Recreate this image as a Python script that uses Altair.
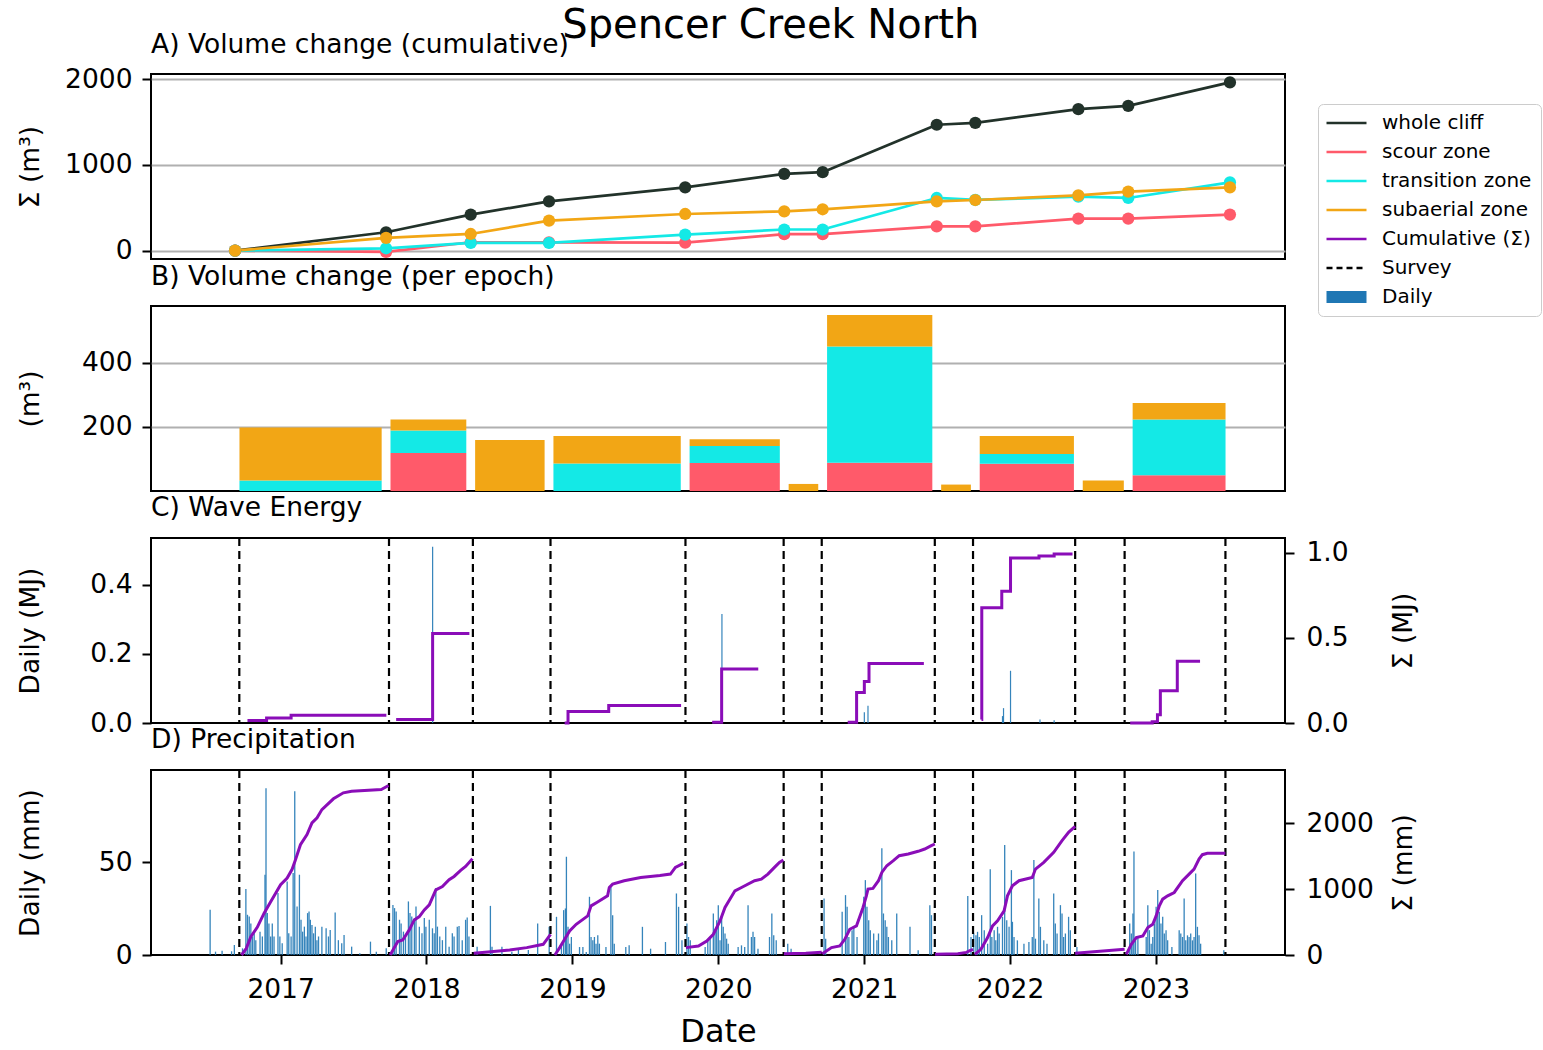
import altair as alt
import pandas as pd

FONT = "DejaVu Sans"

# ---------------- survey epochs (decimal year) ----------------
survey_years = [2016.717, 2017.743, 2018.318, 2018.850, 2019.775, 2020.448,
                2020.709, 2021.484, 2021.746, 2022.446, 2022.785, 2023.476]

# ---------------- A) cumulative volume change (m3) ----------------
vol_whole = [0, 214, 419, 575, 738, 895, 915, 1468, 1490, 1650, 1688, 1962]
vol_scour = [0, -15, 97, 97, 92, 192, 192, 283, 283, 373, 373, 420]
vol_transition = [0, 27, 89, 89, 186, 246, 246, 614, 592, 629, 614, 796]
vol_subaerial = [0, 148, 194, 350, 427, 458, 482, 575, 590, 645, 687, 738]

# ---------------- B) per-epoch volume change (m3) ----------------
epoch_scour = [0, 118, 0, 0, 87, 0, 88, 0, 85, 0, 49]
epoch_transition = [33, 70, 0, 86, 53, 0, 362, 0, 30, 0, 174]
epoch_subaerial = [165, 35, 159, 85, 21, 22, 98, 20, 56, 33, 51]

# ---------------- C) wave energy ----------------
wave_t = [2018.042, 2020.025, 2021.001, 2021.026, 2021.948, 2021.955, 2022.003, 2022.205, 2022.302, 2023.010]
wave_mj = [0.51, 0.315, 0.031, 0.05, 0.02, 0.043, 0.151, 0.01, 0.008, 0.013]

wave_cum_e1 = [(2016.773, 0.014), (2016.904, 0.029), (2017.072, 0.045), (2017.725, 0.045)]
wave_cum_e2 = [(2017.792, 0.020), (2018.042, 0.525), (2018.294, 0.525)]
wave_cum_e4 = [(2018.947, 0.000), (2018.970, 0.068), (2019.249, 0.103), (2019.745, 0.103)]
wave_cum_e5 = [(2019.958, 0.005), (2020.023, 0.317), (2020.274, 0.317)]
wave_cum_e7 = [(2020.887, 0.005), (2020.948, 0.179), (2021.001, 0.243), (2021.033, 0.350), (2021.409, 0.350)]
wave_cum_e9 = [(2021.804, 0.020), (2021.806, 0.677), (2021.943, 0.774), (2022.003, 0.969),
               (2022.198, 0.980), (2022.302, 0.992), (2022.428, 0.992)]
wave_cum_e11 = [(2022.823, 0.000), (2022.974, 0.008), (2023.010, 0.049), (2023.030, 0.190),
                (2023.146, 0.362), (2023.302, 0.362)]

# ---------------- D) precipitation ----------------
rain_t = [
    2016.517, 2016.554, 2016.599, 2016.664, 2016.683, 2016.739, 2016.762, 2016.773, 2016.785, 2016.796,
    2016.807, 2016.819, 2016.830, 2016.859, 2016.875, 2016.893, 2016.900, 2016.909, 2016.920, 2016.932,
    2016.943, 2016.955, 2016.982, 2016.995, 2017.011, 2017.045, 2017.056, 2017.072, 2017.086, 2017.097,
    2017.113, 2017.129, 2017.140, 2017.151, 2017.163, 2017.174, 2017.185, 2017.195, 2017.204, 2017.215,
    2017.226, 2017.238, 2017.249, 2017.260, 2017.283, 2017.312, 2017.328, 2017.340, 2017.374, 2017.396,
    2017.419, 2017.435, 2017.487, 2017.543, 2017.616, 2017.656, 2017.724,
    2017.770, 2017.781, 2017.792, 2017.815, 2017.826, 2017.842, 2017.856, 2017.876, 2017.887, 2017.899,
    2017.917, 2017.928, 2017.951, 2017.969, 2017.985, 2017.996, 2018.019, 2018.041, 2018.053, 2018.064,
    2018.075, 2018.091, 2018.109, 2018.132, 2018.155, 2018.177, 2018.189, 2018.211, 2018.223, 2018.245,
    2018.268, 2018.279, 2018.291,
    2018.347, 2018.438, 2018.449, 2018.517, 2018.585, 2018.630, 2018.698, 2018.762, 2018.841,
    2018.891, 2018.925, 2018.940, 2018.952, 2018.959, 2018.970, 2018.981, 2018.993, 2019.049, 2019.072,
    2019.095, 2019.117, 2019.128, 2019.140, 2019.151, 2019.162, 2019.174, 2019.185, 2019.230, 2019.264,
    2019.276, 2019.287, 2019.366, 2019.389, 2019.480, 2019.536, 2019.638, 2019.713, 2019.728, 2019.751,
    2019.785, 2019.796, 2019.808, 2019.910, 2019.928, 2019.944, 2019.966, 2019.978, 2019.989, 2020.000,
    2020.012, 2020.023, 2020.034, 2020.046, 2020.057, 2020.068, 2020.136, 2020.159, 2020.181, 2020.204,
    2020.227, 2020.238, 2020.249, 2020.272, 2020.351, 2020.367, 2020.380, 2020.397,
    2020.476, 2020.499,
    2020.725, 2020.736, 2020.849, 2020.872, 2020.883, 2020.895, 2020.917, 2020.929, 2020.951, 2020.997,
    2021.008, 2021.019, 2021.031, 2021.042, 2021.065, 2021.087, 2021.098, 2021.121, 2021.132, 2021.144,
    2021.155, 2021.166, 2021.189, 2021.223, 2021.314, 2021.370, 2021.450, 2021.461,
    2021.710, 2021.732,
    2021.751, 2021.766, 2021.777, 2021.789, 2021.805, 2021.823, 2021.846, 2021.864, 2021.875, 2021.891,
    2021.902, 2021.914, 2021.925, 2021.948, 2021.963, 2021.977, 2021.993, 2022.009, 2022.016, 2022.027,
    2022.050, 2022.095, 2022.129, 2022.152, 2022.163, 2022.174, 2022.197, 2022.208, 2022.231, 2022.253,
    2022.299, 2022.310, 2022.322, 2022.345, 2022.356, 2022.367, 2022.379, 2022.401, 2022.413,
    2022.458, 2022.684,
    2022.820, 2022.831, 2022.842, 2022.849, 2022.860, 2022.876, 2022.933, 2022.944, 2022.955, 2022.967,
    2022.978, 2022.989, 2023.001, 2023.012, 2023.023, 2023.034, 2023.046, 2023.057, 2023.069, 2023.080,
    2023.109, 2023.159, 2023.170, 2023.182, 2023.193, 2023.204, 2023.216, 2023.227, 2023.238, 2023.250,
    2023.261, 2023.272, 2023.284, 2023.295, 2023.306, 2023.465,
]
rain_mm = [
    24.4, 1.8, 2.3, 2.0, 5.4, 3.6, 35.6, 21.7, 20.8, 17.0,
    10.0, 11.7, 8.0, 12.6, 10.0, 43.3, 90.0, 22.6, 17.0, 10.0,
    17.0, 10.0, 33.4, 10.0, 6.3, 39.7, 11.7, 10.0, 44.2, 88.4,
    26.2, 43.3, 19.0, 12.6, 15.3, 10.0, 22.6, 23.5, 19.0, 16.2,
    11.7, 15.3, 8.0, 10.0, 15.3, 14.4, 10.0, 13.5, 22.9, 8.0,
    6.3, 10.8, 4.5, 1.0, 7.2, 1.8, 3.6,
    27.0, 25.3, 23.5, 19.0, 17.0, 12.6, 10.0, 28.9, 22.6, 20.8,
    19.9, 26.2, 15.3, 11.7, 19.9, 15.3, 19.0, 14.4, 11.7, 36.1,
    15.3, 10.0, 8.0, 15.3, 4.5, 11.7, 10.0, 15.3, 15.7, 8.0,
    19.0, 20.2, 10.0,
    4.5, 26.5, 4.5, 4.5, 1.8, 3.6, 2.7, 17.0, 15.2,
    20.6, 6.1, 24.2, 25.1, 53.0, 15.2, 6.1, 9.7, 4.3, 4.3,
    1.6, 31.4, 9.7, 7.9, 9.7, 6.1, 10.6, 6.1, 4.3, 36.8,
    21.5, 6.1, 4.3, 5.2, 15.2, 3.4, 7.0, 33.2, 26.0, 7.9,
    17.0, 9.7, 7.9, 4.3, 7.9, 9.7, 22.4, 12.5, 18.8, 26.9,
    7.9, 20.6, 15.2, 11.6, 8.8, 6.1, 4.3, 5.2, 4.3, 26.9,
    9.7, 12.5, 9.7, 3.4, 9.7, 22.4, 10.6, 7.9,
    6.1, 3.4,
    30.5, 8.8, 23.3, 32.3, 26.0, 9.7, 13.4, 15.2, 9.7, 31.4,
    40.4, 26.0, 18.8, 13.4, 11.6, 7.9, 11.6, 57.6, 22.4, 18.8,
    15.2, 9.7, 7.9, 22.4, 15.2, 2.5, 26.9, 21.5,
    31.8, 9.7,
    11.6, 10.6, 12.5, 9.7, 21.5, 13.4, 6.1, 46.2, 9.7, 13.4,
    7.9, 15.2, 11.6, 20.6, 59.4, 18.8, 15.2, 45.8, 17.9, 9.7,
    7.9, 6.1, 7.0, 9.7, 51.3, 8.8, 30.5, 15.2, 7.9, 6.1,
    33.2, 17.0, 11.6, 26.9, 22.4, 9.7, 11.6, 20.6, 13.4,
    4.3, 0.7,
    17.0, 11.6, 22.4, 55.8, 7.9, 9.7, 9.7, 26.9, 13.4, 6.1,
    9.7, 17.0, 26.0, 35.0, 23.3, 17.0, 20.6, 11.6, 13.4, 7.9,
    4.3, 13.4, 11.6, 9.7, 30.5, 7.9, 10.6, 9.7, 11.6, 7.9,
    9.7, 44.0, 15.2, 10.6, 6.1, 2.5,
]

rain_cum_e1 = [(2016.732, 0), (2016.765, 100), (2016.796, 279), (2016.840, 420), (2016.887, 634),
               (2016.930, 800), (2016.970, 950), (2017.000, 1065), (2017.045, 1166), (2017.079, 1300),
               (2017.102, 1445), (2017.136, 1673), (2017.181, 1825), (2017.215, 2003), (2017.250, 2080),
               (2017.283, 2205), (2017.362, 2368), (2017.430, 2459), (2017.487, 2484), (2017.690, 2510),
               (2017.740, 2570)]
rain_cum_e2 = [(2017.751, 0), (2017.803, 203), (2017.837, 228), (2017.882, 380), (2017.916, 532),
               (2017.951, 583), (2017.985, 684), (2018.019, 760), (2018.064, 988), (2018.109, 1039),
               (2018.155, 1141), (2018.189, 1191), (2018.234, 1283), (2018.268, 1343), (2018.315, 1460)]
rain_cum_e3 = [(2018.324, 26), (2018.440, 50), (2018.570, 75), (2018.687, 112), (2018.800, 162),
               (2018.834, 264), (2018.850, 314)]
rain_cum_e4 = [(2018.880, 0), (2018.913, 112), (2018.950, 250), (2018.981, 365), (2019.026, 466),
               (2019.105, 593), (2019.128, 745), (2019.170, 800), (2019.241, 897), (2019.253, 1024),
               (2019.276, 1075), (2019.355, 1126), (2019.468, 1176), (2019.600, 1205), (2019.672, 1227),
               (2019.706, 1328), (2019.760, 1389)]
rain_cum_e5 = [(2019.778, 112), (2019.864, 137), (2019.921, 213), (2019.966, 314), (2020.012, 517),
               (2020.046, 720), (2020.114, 973), (2020.159, 1024), (2020.249, 1126), (2020.295, 1151),
               (2020.340, 1227), (2020.385, 1328), (2020.419, 1404), (2020.446, 1440)]
rain_cum_e6 = [(2020.450, 20), (2020.600, 28), (2020.709, 40)]
rain_cum_e7 = [(2020.713, 20), (2020.776, 112), (2020.833, 137), (2020.867, 238), (2020.901, 390),
               (2020.947, 441), (2020.992, 720), (2021.015, 897), (2021.026, 999), (2021.060, 1010),
               (2021.098, 1126), (2021.121, 1252), (2021.155, 1354), (2021.200, 1430), (2021.240, 1506),
               (2021.302, 1531), (2021.370, 1572), (2021.415, 1607), (2021.460, 1658), (2021.484, 1683)]
rain_cum_e8 = [(2021.486, 10), (2021.642, 20), (2021.700, 40), (2021.721, 61), (2021.746, 86)]
rain_cum_e9 = [(2021.759, 10), (2021.800, 86), (2021.846, 264), (2021.880, 441), (2021.914, 517),
               (2021.959, 669), (2021.982, 897), (2022.016, 1049), (2022.061, 1126), (2022.152, 1176),
               (2022.174, 1303), (2022.231, 1404), (2022.299, 1556), (2022.356, 1734), (2022.401, 1861),
               (2022.446, 1950)]
rain_cum_e10 = [(2022.446, 25), (2022.785, 86)]
rain_cum_e11 = [(2022.797, 10), (2022.831, 162), (2022.865, 264), (2022.910, 289), (2022.944, 416),
                (2022.978, 466), (2023.001, 593), (2023.023, 745), (2023.046, 847), (2023.080, 897),
                (2023.125, 948), (2023.182, 1126), (2023.227, 1227), (2023.261, 1303), (2023.295, 1455),
                (2023.318, 1521), (2023.352, 1541), (2023.476, 1541)]

# ---------------- legend / styles ----------------
keys = ["whole cliff", "scour zone", "transition zone", "subaerial zone", "Cumulative (Σ)", "Survey", "Daily"]
key_colors = ["#22322a", "#ff5a6a", "#14e9e6", "#f2a615", "#8a0db8", "#000000", "#1f77b4"]
key_dash = [[1, 0], [1, 0], [1, 0], [1, 0], [1, 0], [6, 4], [1, 0]]
LINE_SYM = "M-5,0H5"
RECT_SYM = "M-5,-1.2H5M-5,-0.6H5M-5,0H5M-5,0.6H5M-5,1.2H5"
key_shapes = [LINE_SYM] * 6 + [RECT_SYM]
PURPLE = "#8a0db8"
BLUE = "#1f77b4"

W, H = 1134, 185
TICK_FS = 26.5
TITLE_FS = 26.5
xscale = alt.Scale(domain=[2016.146, 2023.85], nice=False, zero=False)

color_scale = alt.Scale(domain=keys, range=key_colors)
dash_scale = alt.Scale(domain=keys, range=key_dash)
shape_scale = alt.Scale(domain=keys, range=key_shapes)

LEG = alt.Legend(title=None, orient="none", legendX=1167, legendY=30,
                 labelFont=FONT, labelFontSize=20, labelColor="black",
                 symbolSize=64, symbolStrokeWidth=2.5, symbolOpacity=1,
                 strokeColor="#cccccc", fillColor="white", cornerRadius=5,
                 padding=9, rowPadding=9, symbolOffset=9.5, labelOffset=25.5)


def left_axis(title, values, fmt=None, grid=False):
    kw = dict(title=title, values=values, grid=grid, domain=False, ticks=True, tickSize=9, tickWidth=2,
              tickColor="black", labelFont=FONT, labelFontSize=TICK_FS, labelColor="black", labelPadding=10,
              titleFont=FONT, titleFontSize=TICK_FS, titleFontWeight="normal", titleColor="black",
              titlePadding=22, minExtent=85, maxExtent=85)
    if grid:
        kw.update(gridColor="#b0b0b0", gridWidth=1.8)
    if fmt:
        kw["format"] = fmt
    return alt.Axis(**kw)


def right_axis(title, values, fmt=None):
    kw = dict(title=title, values=values, orient="right", grid=False, domain=False, tickSize=9, tickWidth=2,
              tickColor="black", labelFont=FONT, labelFontSize=TICK_FS, labelColor="black", labelPadding=12,
              titleFont=FONT, titleFontSize=TICK_FS, titleFontWeight="normal", titleColor="black",
              titleAngle=270, titleBaseline="top", titlePadding=20, minExtent=85, maxExtent=85)
    if fmt:
        kw["format"] = fmt
    return alt.Axis(**kw)


def panel_title(text, offset=-5.5):
    return alt.TitleParams(text, anchor="start", frame="group", font=FONT, fontSize=TITLE_FS,
                           fontWeight="normal", color="black", baseline="alphabetic", offset=offset)


# ---------------- build data frames ----------------
rowsA = []
for k, vals in zip(keys[:4], [vol_whole, vol_scour, vol_transition, vol_subaerial]):
    for t, v in zip(survey_years, vals):
        rowsA.append({"year": t, "volume": v, "key": k})
dfA = pd.DataFrame(rowsA)

rowsB = []
for i in range(len(epoch_scour)):
    x0 = survey_years[i] + 0.03
    x1 = survey_years[i + 1] - 0.03
    base = 0
    for k, v in zip(keys[1:4], [epoch_scour[i], epoch_transition[i], epoch_subaerial[i]]):
        if v > 0:
            rowsB.append({"x0": x0, "x1": x1, "y0": base, "y1": base + v, "key": k})
            base += v
dfB = pd.DataFrame(rowsB)

dfSurvey = pd.DataFrame({"year": survey_years})
dfWave = pd.DataFrame({"year": wave_t, "daily": wave_mj})
dfRain = pd.DataFrame({"year": rain_t, "daily": rain_mm})


def epochs_df(lists):
    rows = []
    for i, lst in enumerate(lists):
        for t, v in lst:
            rows.append({"year": t, "cum": v, "epoch": i})
    return pd.DataFrame(rows)


dfWaveCum = epochs_df([wave_cum_e1, wave_cum_e2, wave_cum_e4, wave_cum_e5, wave_cum_e7, wave_cum_e9, wave_cum_e11])
dfRainCum = epochs_df([rain_cum_e1, rain_cum_e2, rain_cum_e3, rain_cum_e4, rain_cum_e5, rain_cum_e6,
                       rain_cum_e7, rain_cum_e8, rain_cum_e9, rain_cum_e10, rain_cum_e11])

x_none = alt.X("year:Q", scale=xscale, axis=None)

# ---------------- panel A ----------------
yA = alt.Y("volume:Q", scale=alt.Scale(domain=[-98, 2060], nice=False, zero=False),
           axis=left_axis("Σ (m³)", [0, 1000, 2000], fmt="d", grid=True))
# invisible layer carrying the legend (explicit scale domains list every entry)
legendA = alt.Chart(dfA).mark_point(filled=False, size=64, strokeWidth=2.5, opacity=0).encode(
    x=x_none, y=yA,
    color=alt.Color("key:N", scale=color_scale, legend=LEG),
    shape=alt.Shape("key:N", scale=shape_scale, legend=LEG),
    strokeDash=alt.StrokeDash("key:N", scale=dash_scale, legend=LEG),
)
linesA = alt.Chart(dfA).mark_line(strokeWidth=2.7, strokeJoin="round").encode(
    x=x_none, y=yA,
    color=alt.Color("key:N", scale=color_scale, legend=None),
)
pointsA = alt.Chart(dfA).mark_circle(size=150, opacity=1).encode(
    x=x_none, y=yA, color=alt.Color("key:N", scale=color_scale, legend=None)
)
panelA = alt.layer(legendA, linesA, pointsA).properties(
    width=W, height=H, title=panel_title("A) Volume change (cumulative)", -13.5))

# ---------------- panel B ----------------
panelB = alt.Chart(dfB).mark_rect().encode(
    x=alt.X("x0:Q", scale=xscale, axis=None),
    x2="x1:Q",
    y=alt.Y("y0:Q", scale=alt.Scale(domain=[0, 576], nice=False),
            axis=left_axis("(m³)", [200, 400], grid=True)),
    y2="y1:Q",
    color=alt.Color("key:N", scale=color_scale, legend=None),
).properties(width=W, height=H, title=panel_title("B) Volume change (per epoch)"))

# ---------------- panel C ----------------
barsC = alt.Chart(dfWave).mark_bar(size=1.2, color=BLUE, opacity=0.9).encode(
    x=x_none,
    y=alt.Y("daily:Q", scale=alt.Scale(domain=[0, 0.535], nice=False),
            axis=left_axis("Daily (MJ)", [0, 0.2, 0.4], ".1f")),
)
surveyC = alt.Chart(dfSurvey).mark_rule(color="black", strokeDash=[8, 5], strokeWidth=2.2).encode(x=x_none)
cumC = alt.Chart(dfWaveCum).mark_line(color=PURPLE, strokeWidth=3, interpolate="step-after").encode(
    x=x_none,
    y=alt.Y("cum:Q", scale=alt.Scale(domain=[0, 1.086], nice=False),
            axis=right_axis("Σ (MJ)", [0, 0.5, 1.0], ".1f")),
    detail="epoch:N",
)
panelC = alt.layer(barsC, surveyC, cumC).resolve_scale(y="independent").properties(
    width=W, height=H, title=panel_title("C) Wave Energy"))

# ---------------- panel D ----------------
x_date = alt.X("year:Q", scale=xscale,
               axis=alt.Axis(title="Date", values=[2017, 2018, 2019, 2020, 2021, 2022, 2023], format="d",
                             grid=False, domain=False, tickSize=9, tickWidth=2, tickColor="black",
                             labelFont=FONT, labelFontSize=TICK_FS, labelColor="black", labelPadding=12,
                             titleFont=FONT, titleFontSize=32, titleFontWeight="normal",
                             titleColor="black", titlePadding=14))
barsD = alt.Chart(dfRain).mark_bar(size=1.3, color=BLUE, opacity=0.9).encode(
    x=x_date,
    y=alt.Y("daily:Q", scale=alt.Scale(domain=[0, 99.8], nice=False),
            axis=left_axis("Daily (mm)", [0, 50])),
)
surveyD = alt.Chart(dfSurvey).mark_rule(color="black", strokeDash=[8, 5], strokeWidth=2.2).encode(x=x_date)
cumD = alt.Chart(dfRainCum).mark_line(color=PURPLE, strokeWidth=3).encode(
    x=x_date,
    y=alt.Y("cum:Q", scale=alt.Scale(domain=[0, 2805], nice=False),
            axis=right_axis("Σ (mm)", [0, 1000, 2000], "d")),
    detail="epoch:N",
)
panelD = alt.layer(barsD, surveyD, cumD).resolve_scale(y="independent").properties(
    width=W, height=H, title=panel_title("D) Precipitation"))

chart = alt.vconcat(panelA, panelB, panelC, panelD, spacing=47, bounds="flush").properties(
    title=alt.TitleParams("Spencer Creek North", fontSize=40, font=FONT, fontWeight="normal",
                          anchor="middle", offset=0, dy=47, dx=-8, baseline="alphabetic", color="black"),
    padding={"left": 16, "top": 6, "right": 0, "bottom": 0},
    background="white",
).configure_view(stroke="black", strokeWidth=2)

chart.save("out.html", embed_options={"renderer": "svg", "actions": False})
